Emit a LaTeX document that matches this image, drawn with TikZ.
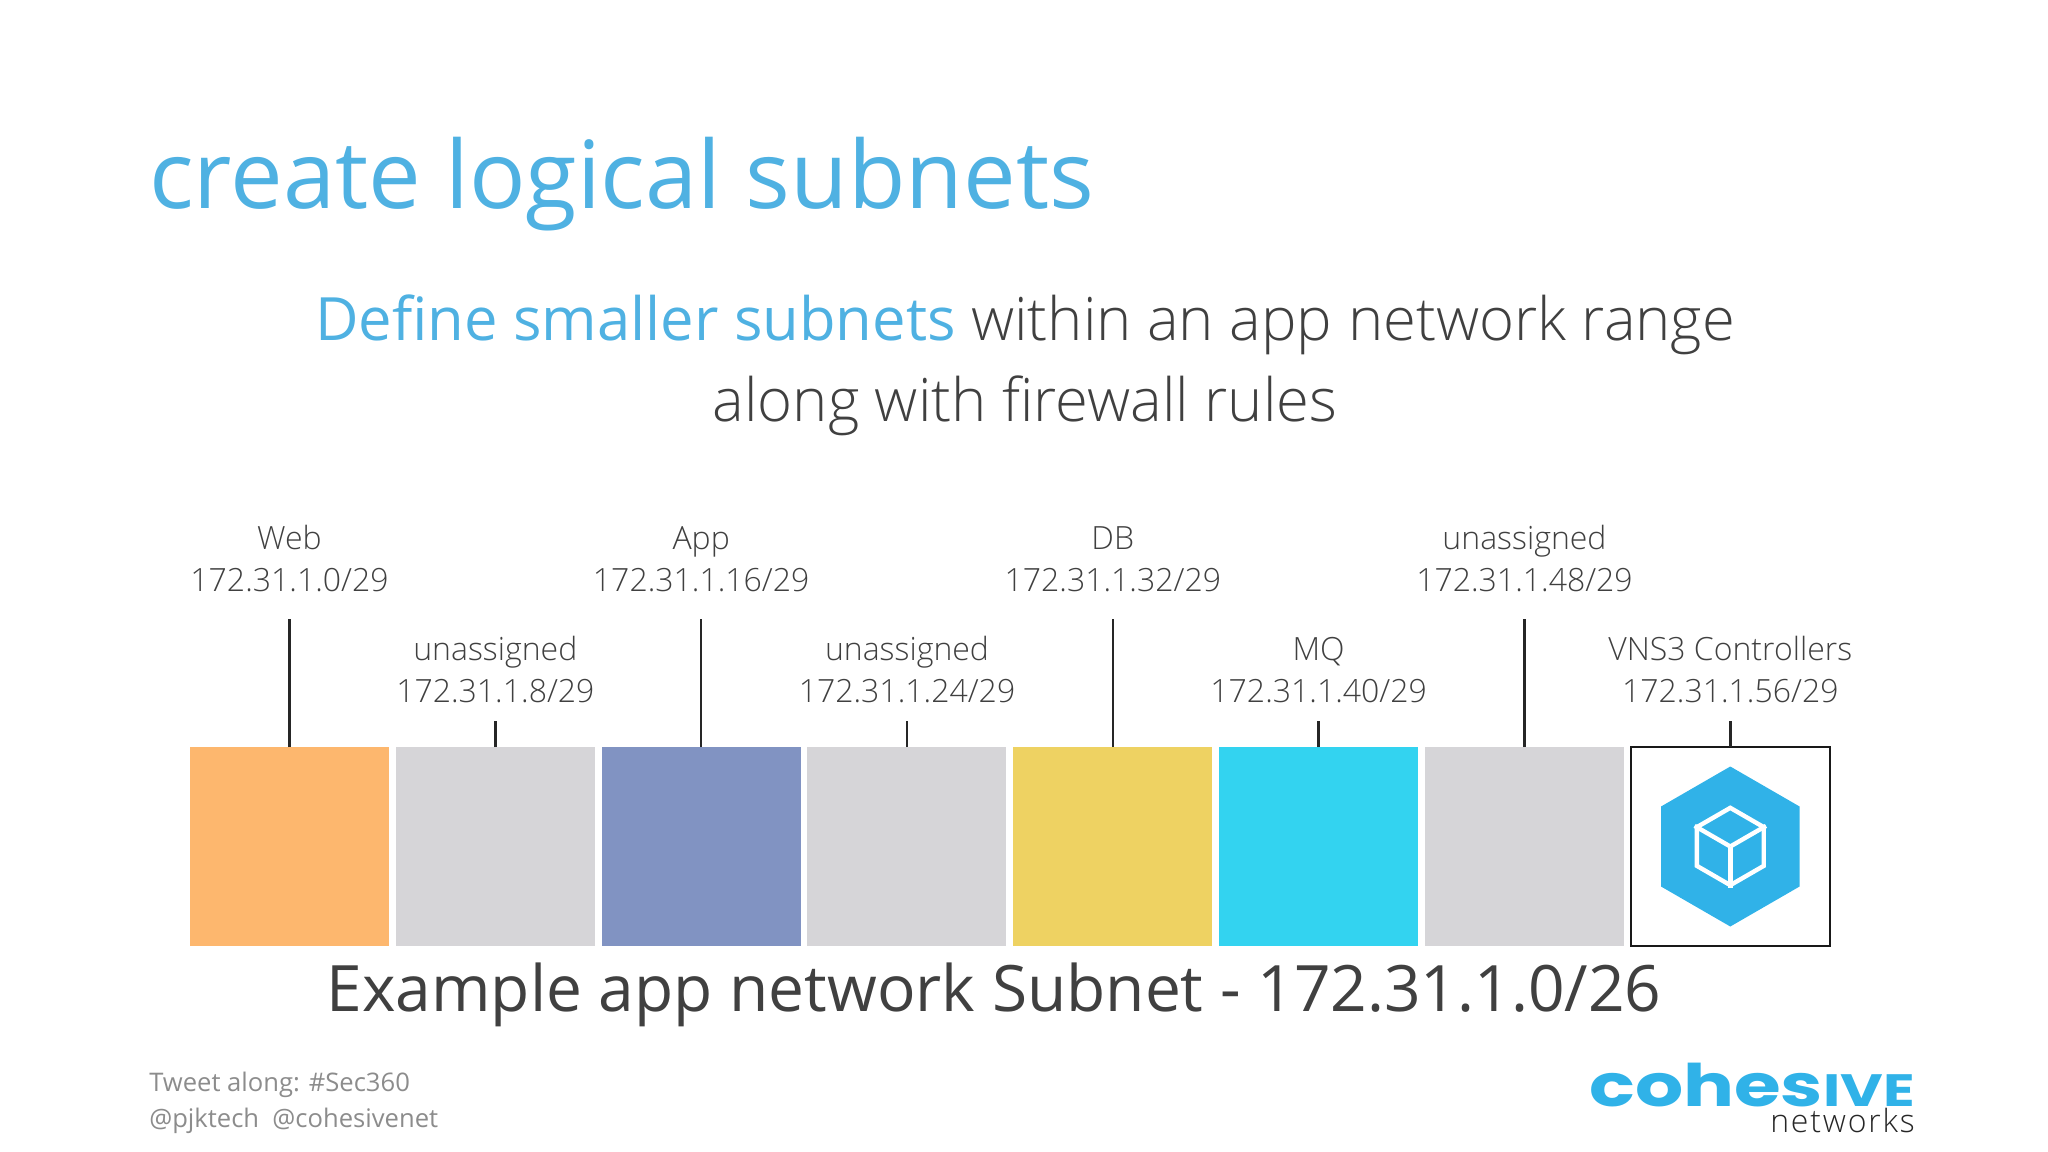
\documentclass[tikz,border=0pt]{standalone}
\usepackage{fontspec}
\setmainfont{Open Sans}
\newfontfamily\lightfont{Open Sans Light}
\newfontfamily\subfont{Open Sans Light}[LetterSpace=5.6]
\newfontfamily\logofont{Poppins}[BoldFont=* Bold]
\usepackage{xcolor}
\usetikzlibrary{positioning, shapes.geometric}
\definecolor{titleblue}{HTML}{4FB1E2}
\definecolor{bodygrey}{HTML}{404040}
\definecolor{footgrey}{HTML}{8C8C8C}
\definecolor{webcolor}{HTML}{FDB76E}
\definecolor{freecolor}{HTML}{D6D5D8}
\definecolor{appcolor}{HTML}{8193C2}
\definecolor{dbcolor}{HTML}{EED262}
\definecolor{mqcolor}{HTML}{33D3F0}
\definecolor{hexcolor}{HTML}{30B2E8}

\begin{document}
\begin{tikzpicture}[
    x=0.75pt, y=-0.75pt,
    node distance=5.12pt,
    cell/.style={minimum width=149.25pt, minimum height=149.25pt, inner sep=0pt, outer sep=0pt},
    leader/.style={line width=1.9pt, draw=black!85},
    addr/.style={font=\lightfont\fontsize{24}{31.5}\selectfont, text=bodygrey, align=center, inner sep=0pt, outer sep=0pt},
    tall/.style={above=96pt of #1, text depth=20.6pt},
    short/.style={above=19.5pt of #1, text depth=14pt}
]
    \useasboundingbox (0,0) rectangle (2048,1152);

    % Headings
    \node[anchor=base west, inner sep=0pt, text=titleblue, font=\fontsize{70.4}{84}\selectfont] (title) at (149,209) {create logical subnets};
    \node[align=center, inner sep=0pt, text=bodygrey, font=\lightfont\fontsize{44.8}{61}\selectfont] (subtitle) at (1025,365) {\textcolor{titleblue}{\normalfont\fontsize{44.8}{61}\selectfont Define smaller subnets} within an app network range\\along with firewall rules};

    % Subnet cells
    \node[cell, fill=webcolor, anchor=north west] (web) at (190,747) {};
    \node[cell, fill=freecolor, right=of web] (free1) {};
    \node[cell, fill=appcolor, right=of free1] (app) {};
    \node[cell, fill=freecolor, right=of app] (free2) {};
    \node[cell, fill=dbcolor, right=of free2] (db) {};
    \node[cell, fill=mqcolor, right=of db] (mq) {};
    \node[cell, fill=freecolor, right=of mq] (free3) {};
    \node[cell, draw=black!90, line width=1.9pt, right=of free3] (vns) {};

    % Controller icon
    \node[regular polygon, regular polygon sides=6, shape border rotate=30, fill=hexcolor, minimum size=120pt, inner sep=0pt] (hex) at (vns) {};
    \node[regular polygon, regular polygon sides=6, shape border rotate=30, draw=white, line width=3.3pt, minimum size=58pt, inner sep=0pt] (cube) at (hex) {};
    \draw[white, line width=3.3pt] (cube.center) -- (cube.150);
    \draw[white, line width=3.3pt] (cube.center) -- (cube.30);
    \draw[white, line width=3.3pt] (cube.center) -- (cube.270);

    % Subnet labels
    \node[addr, tall=web] (weblabel) {Web\\172.31.1.0/29};
    \node[addr, short=free1] (free1label) {unassigned\\172.31.1.8/29};
    \node[addr, tall=app] (applabel) {App\\172.31.1.16/29};
    \node[addr, short=free2] (free2label) {unassigned\\172.31.1.24/29};
    \node[addr, tall=db] (dblabel) {DB\\172.31.1.32/29};
    \node[addr, short=mq] (mqlabel) {MQ\\172.31.1.40/29};
    \node[addr, tall=free3] (free3label) {unassigned\\172.31.1.48/29};
    \node[addr, short=vns] (vnslabel) {VNS3 Controllers\\172.31.1.56/29};

    % Leaders
    \draw[leader] (web) -- (weblabel);
    \draw[leader] (free1) -- (free1label);
    \draw[leader] (app) -- (applabel);
    \draw[leader] (free2) -- (free2label);
    \draw[leader] (db) -- (dblabel);
    \draw[leader] (mq) -- (mqlabel);
    \draw[leader] (free3) -- (free3label);
    \draw[leader] (vns) -- (vnslabel);

    % Caption and footer
    \node[anchor=base, inner sep=0pt, text=bodygrey, font=\fontsize{48}{56}\selectfont] (caption) at (994,1011) {Example app network Subnet - 172.31.1.0/26};
    \node[anchor=base west, inner sep=0pt, text=footgrey, font=\fontsize{19.2}{24}\selectfont] (tweet) at (149,1091) {Tweet along: \#Sec360};
    \node[anchor=base west, inner sep=0pt, text=footgrey, font=\fontsize{19.2}{24}\selectfont] (handles) at (149,1127) {@pjktech\ \ @cohesivenet};

    % Logo
    \node[anchor=base east, inner sep=0pt, text=hexcolor, font=\logofont\bfseries\fontsize{44}{50}\selectfont] (logo) at (1915,1106) {\scalebox{1.29}[1]{cohes{\fontsize{34}{40}\selectfont IVE}}};
    \node[anchor=base east, inner sep=0pt, text=black!85, font=\subfont\fontsize{24}{24}\selectfont] (logosub) at (1915,1132) {networks};
\end{tikzpicture}
\end{document}
